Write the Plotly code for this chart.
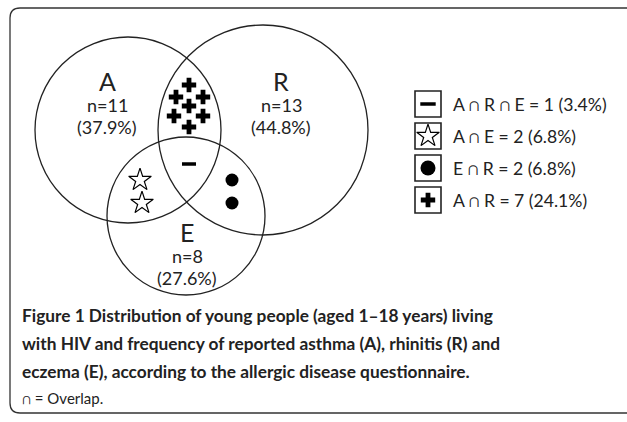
import plotly.graph_objects as go

# ---- data ----
set_names = ["A", "R", "E"]
set_counts = [11, 13, 8]
set_pcts = ["37.9", "44.8", "27.6"]

overlap_names = ["A ∩ R ∩ E", "A ∩ E", "E ∩ R", "A ∩ R"]
overlap_counts = [1, 2, 2, 7]
overlap_pcts = ["3.4", "6.8", "6.8", "24.1"]

caption_lines = [
    "Figure 1 Distribution of young people (aged 1–18 years) living",
    "with HIV and frequency of reported asthma (A), rhinitis (R) and",
    "eczema (E), according to the allergic disease questionnaire.",
]
caption_note = "∩ = Overlap."

# ---- layout constants (pixel space) ----
W, H = 627, 422
FONT = "Lato"
circles = {"A": (128, 130, 93), "R": (263, 130, 105), "E": (186, 216, 79)}
label_pos = {"A": (107, 81), "R": (281, 81), "E": (187, 232)}

# marker placements per overlap region
marker_pos = {
    "A ∩ R ∩ E": [(189, 164)],
    "A ∩ E": [(140, 180), (142, 203)],
    "E ∩ R": [(232, 180), (232, 203)],
    "A ∩ R": [(189, 85), (176, 97), (203, 97), (189, 106), (174, 116), (203, 116), (189, 127)],
}
marker_style = {
    "A ∩ R ∩ E": dict(symbol="line-ew", size=10, color="black", line=dict(width=3.5, color="black")),
    "A ∩ E": dict(symbol="star-open", size=17, color="black", line=dict(width=1.2, color="black")),
    "E ∩ R": dict(symbol="circle", size=13, color="black", line=dict(width=0)),
    "A ∩ R": dict(symbol="cross", size=12, color="black", line=dict(width=0)),
}
legend_size = {"A ∩ R ∩ E": 11, "A ∩ E": 17, "E ∩ R": 15, "A ∩ R": 12}

fig = go.Figure()
shapes = []
annotations = []

# outer rounded frame
r = 10
x0, y0, x1, y1 = 10, 8, 660, 413
shapes.append(dict(
    type="path", xref="x", yref="y",
    path=f"M {x0+r},{y0} L {x1},{y0} M {x0+r},{y0} Q {x0},{y0} {x0},{y0+r} L {x0},{y1-r} Q {x0},{y1} {x0+r},{y1} L {x1},{y1}",
    line=dict(color="#333", width=1.3),
))

for name, cnt, pct in zip(set_names, set_counts, set_pcts):
    cx, cy, rad = circles[name]
    shapes.append(dict(type="circle", xref="x", yref="y",
                       x0=cx - rad, x1=cx + rad, y0=cy - rad, y1=cy + rad,
                       line=dict(color="#222", width=1.3)))
    lx, ly = label_pos[name]
    annotations.append(dict(x=lx, y=ly, text=name, showarrow=False,
                            font=dict(family=FONT, size=25, color="#222")))
    annotations.append(dict(x=lx, y=ly + 23.5, text=f"n={cnt}", showarrow=False,
                            font=dict(family=FONT, size=18, color="#222")))
    annotations.append(dict(x=lx, y=ly + 46, text=f"({pct}%)", showarrow=False,
                            font=dict(family=FONT, size=18, color="#222")))

for name in overlap_names:
    pts = marker_pos[name]
    fig.add_trace(go.Scatter(x=[p[0] for p in pts], y=[p[1] for p in pts], mode="markers",
                             marker=marker_style[name], showlegend=False, hoverinfo="skip"))

# legend
leg_x, leg_y0, leg_dy, box = 428, 104, 32, 26
for i, (name, cnt, pct) in enumerate(zip(overlap_names, overlap_counts, overlap_pcts)):
    cy = leg_y0 + i * leg_dy
    shapes.append(dict(type="rect", xref="x", yref="y",
                       x0=leg_x - box / 2, x1=leg_x + box / 2, y0=cy - box / 2, y1=cy + box / 2,
                       line=dict(color="#222", width=1.6)))
    st = dict(marker_style[name])
    st["size"] = legend_size[name]
    fig.add_trace(go.Scatter(x=[leg_x], y=[cy], mode="markers", marker=st,
                             showlegend=False, hoverinfo="skip"))
    annotations.append(dict(x=451, y=cy, xanchor="left", text=f"{name} = {cnt} ({pct}%)",
                            showarrow=False, font=dict(family=FONT, size=17.6, color="#222")))

# caption
cap_y = [315, 343, 371]
for line, yy in zip(caption_lines, cap_y):
    annotations.append(dict(x=20, y=yy, xanchor="left", text=f"<b>{line}</b>", showarrow=False,
                            font=dict(family=FONT, size=17.3, color="#222")))
annotations.append(dict(x=20, y=398, xanchor="left", text=caption_note, showarrow=False,
                        font=dict(family=FONT, size=15, color="#222")))

fig.update_layout(
    width=W, height=H, margin=dict(l=0, r=0, t=0, b=0),
    paper_bgcolor="white", plot_bgcolor="white",
    xaxis=dict(range=[0, W], visible=False, fixedrange=True),
    yaxis=dict(range=[H, 0], visible=False, fixedrange=True),
    shapes=shapes, annotations=annotations,
)
fig.write_html("out.html", config={"displayModeBar": False},
               post_script="document.body.style.margin='0';document.body.style.overflow='hidden';")
